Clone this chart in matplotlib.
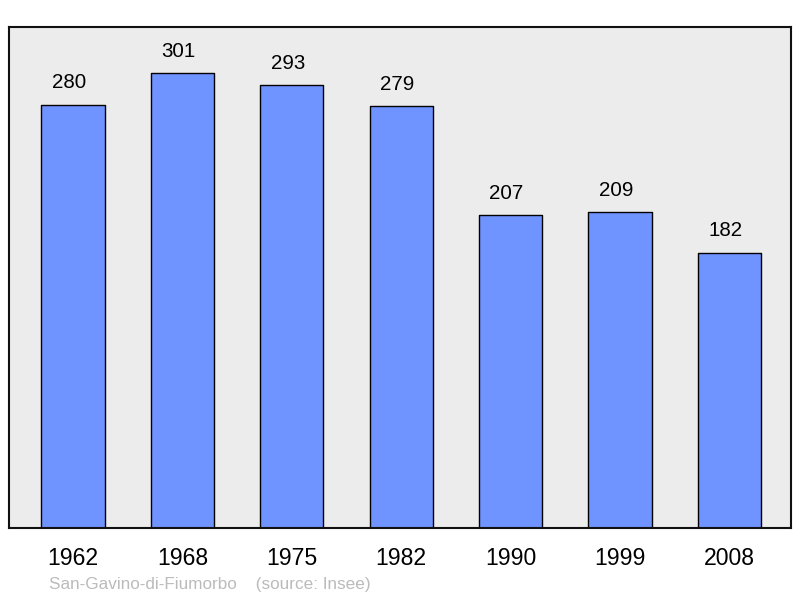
# population bar chart, San-Gavino-di-Fiumorbo
import matplotlib.pyplot as plt

years = ["1962", "1968", "1975", "1982", "1990", "1999", "2008"]
population = [280, 301, 293, 279, 207, 209, 182]

plt.rcParams['font.family'] = ['Liberation Sans', 'DejaVu Sans']

fig = plt.figure(figsize=(8, 5.98), dpi=100)
ax = fig.add_axes([9 / 800, 70 / 598, 782 / 800, 501 / 598])
ax.set_facecolor("#ececec")

x = list(range(len(years)))
bars = ax.bar(x, population, width=0.576, color="#7094ff",
              edgecolor="black", linewidth=1.0, joinstyle="round")

for xi, v in zip(x, population):
    ax.annotate(str(v), (xi, v), xytext=(-3, 9), textcoords="offset points",
                ha="center", va="bottom", fontsize=14.8)

ax.set_xlim(-0.585, 6.563)
ax.set_ylim(0, 331.5)
ax.set_yticks([])
ax.set_xticks(x)
ax.set_xticklabels(years, fontsize=16.6)
ax.tick_params(axis="x", length=0, pad=14)
for s in ax.spines.values():
    s.set_linewidth(1.5)
    s.set_color("#111111")

fig.text(49 / 800, 1 - 584 / 598, "San-Gavino-di-Fiumorbo    (source: Insee)",
         fontsize=12.3, color="#bbbbbb", va="center", ha="left")

fig.savefig("out.png", dpi=100)
